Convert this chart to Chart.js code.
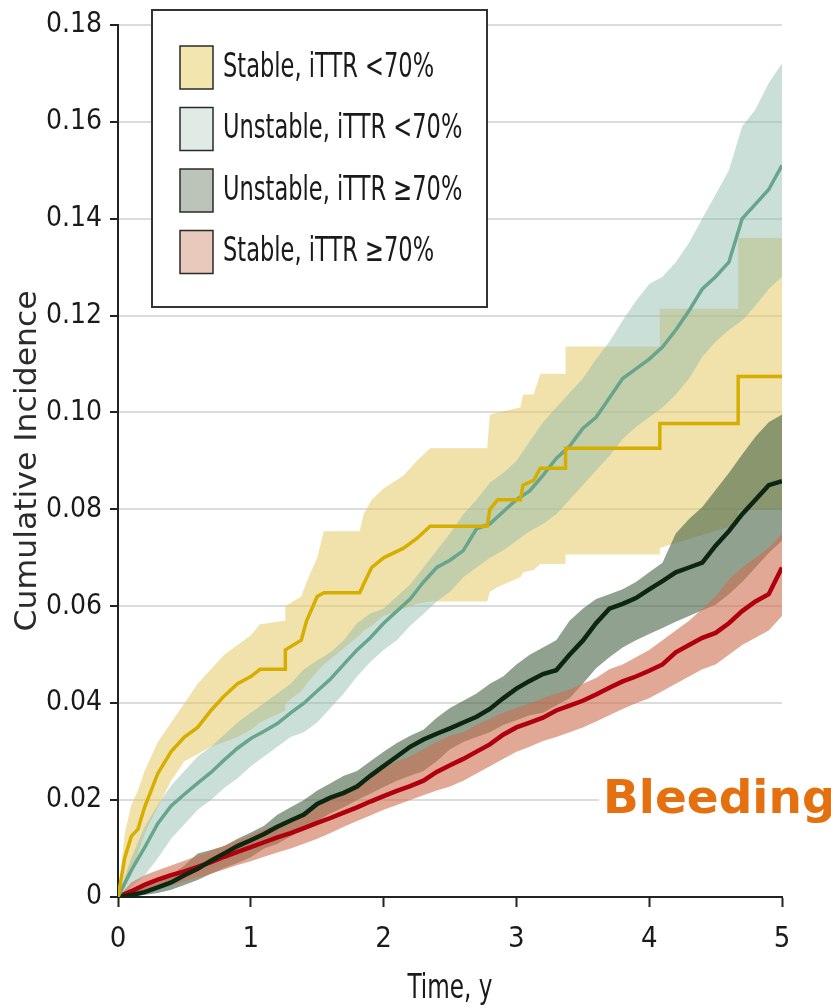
<!DOCTYPE html>
<html>
<head>
<meta charset="utf-8">
<script src="https://cdn.jsdelivr.net/npm/chart.js@4/dist/chart.umd.min.js"></script>
<style>
  html, body { margin: 0; padding: 0; background: #fff; }
  #wrap { width: 831px; height: 1008px; }
</style>
</head>
<body>
<div id="wrap"><canvas id="chart" width="831" height="1008"></canvas></div>
<script>
// follow-up time (years) for the three smoother curves
const years = [
  0, 0.1, 0.2, 0.3, 0.4, 0.5, 0.6, 0.7, 0.8, 0.9,
  1.0, 1.1, 1.2, 1.3, 1.4, 1.5, 1.6, 1.7, 1.8, 1.9,
  2.0, 2.1, 2.2, 2.3, 2.4, 2.5, 2.6, 2.7, 2.8, 2.9,
  3.0, 3.1, 3.2, 3.3, 3.4, 3.5, 3.6, 3.7, 3.8, 3.9,
  4.0, 4.1, 4.2, 4.3, 4.4, 4.5, 4.6, 4.7, 4.8, 4.9,
  5.0
];

// the stable <70% curve has few events, so its steps get their own times (repeated time = jump)
const stableLowYears = [
  0, 0.05, 0.1, 0.15, 0.2, 0.25, 0.3, 0.4, 0.5, 0.6,
  0.7, 0.8, 0.9, 1.0, 1.07, 1.26, 1.26, 1.38, 1.42, 1.5,
  1.55, 1.82, 1.85, 1.91, 2.0, 2.15, 2.25, 2.35, 2.78, 2.8,
  2.86, 3.03, 3.05, 3.13, 3.18, 3.37, 3.37, 4.08, 4.08, 4.67,
  4.67, 5.0
];

const seriesNames = ['Stable, iTTR <70%', 'Unstable, iTTR <70%', 'Unstable, iTTR \u226570%', 'Stable, iTTR \u226570%'];

// Stable, iTTR <70%
const stableLowEst = [
  0, 0.008, 0.0125, 0.014, 0.0185, 0.022, 0.0255, 0.030, 0.033, 0.035,
  0.0385, 0.0415, 0.044, 0.0455, 0.047, 0.047, 0.051, 0.053, 0.057, 0.062,
  0.0628, 0.0628, 0.0646, 0.068, 0.070, 0.072, 0.074, 0.0765, 0.0765, 0.080,
  0.082, 0.082, 0.085, 0.086, 0.0885, 0.0885, 0.0926, 0.0926, 0.0977, 0.0977,
  0.1074, 0.1074
];
const stableLowHi = [
  0, 0.013, 0.019, 0.022, 0.026, 0.029, 0.032, 0.036, 0.040, 0.044,
  0.047, 0.050, 0.052, 0.054, 0.0563, 0.057, 0.060, 0.062, 0.065, 0.070,
  0.0755, 0.0755, 0.079, 0.082, 0.0843, 0.087, 0.090, 0.0926, 0.0926, 0.0995,
  0.100, 0.101, 0.1037, 0.1037, 0.108, 0.108, 0.1136, 0.1136, 0.1214, 0.1214,
  0.136, 0.136
];
const stableLowLo = [
  0, 0.002, 0.005, 0.009, 0.013, 0.016, 0.0185, 0.024, 0.028, 0.0295,
  0.031, 0.032, 0.033, 0.0345, 0.036, 0.0385, 0.040, 0.0425, 0.044, 0.0465,
  0.048, 0.054, 0.055, 0.056, 0.058, 0.0595, 0.0605, 0.061, 0.061, 0.063,
  0.064, 0.066, 0.067, 0.0675, 0.0687, 0.0687, 0.0707, 0.0707, 0.072, 0.077,
  0.080, 0.080
];

// Unstable, iTTR <70%
const unstableLowEst = [
  0, 0.0055, 0.0102, 0.0152, 0.0188, 0.0212, 0.0235, 0.0257, 0.0283, 0.0307,
  0.0327, 0.0342, 0.0358, 0.038, 0.040, 0.0425, 0.045, 0.048, 0.051, 0.0535,
  0.0565, 0.059, 0.0615, 0.065, 0.068, 0.0695, 0.0715, 0.076, 0.077, 0.0795,
  0.082, 0.0838, 0.087, 0.0905, 0.093, 0.0967, 0.099, 0.103, 0.107, 0.109,
  0.111, 0.1135, 0.117, 0.121, 0.1255, 0.128, 0.131, 0.140, 0.143, 0.146,
  0.151
];
const unstableLowHi = [
  0, 0.008, 0.0145, 0.019, 0.023, 0.026, 0.029, 0.031, 0.0335, 0.036,
  0.038, 0.040, 0.042, 0.044, 0.047, 0.0488, 0.0505, 0.053, 0.0565, 0.0585,
  0.0595, 0.062, 0.0645, 0.068, 0.0715, 0.075, 0.079, 0.082, 0.0855, 0.0875,
  0.090, 0.094, 0.098, 0.101, 0.104, 0.107, 0.111, 0.1146, 0.119, 0.123,
  0.1265, 0.128, 0.131, 0.135, 0.140, 0.145, 0.150, 0.159, 0.1625, 0.168,
  0.172
];
const unstableLowLo = [
  0, 0.002, 0.0045, 0.008, 0.012, 0.015, 0.018, 0.020, 0.0225, 0.0245,
  0.027, 0.029, 0.031, 0.033, 0.034, 0.036, 0.039, 0.042, 0.0455, 0.0485,
  0.051, 0.053, 0.056, 0.0584, 0.061, 0.063, 0.066, 0.068, 0.070, 0.0715,
  0.0735, 0.0755, 0.077, 0.079, 0.082, 0.085, 0.088, 0.091, 0.0945, 0.097,
  0.099, 0.101, 0.1037, 0.107, 0.1115, 0.1146, 0.117, 0.119, 0.122, 0.1255,
  0.128
];

// Unstable, iTTR >=70%
const unstableHighEst = [
  0, 0.0004, 0.001, 0.002, 0.003, 0.0045, 0.0058, 0.0075, 0.009, 0.0105,
  0.0117, 0.013, 0.0145, 0.0158, 0.017, 0.0192, 0.0205, 0.0215, 0.0228, 0.025,
  0.027, 0.029, 0.031, 0.0325, 0.0337, 0.0348, 0.036, 0.0372, 0.0388, 0.041,
  0.043, 0.0446, 0.046, 0.0468, 0.050, 0.0529, 0.0565, 0.0595, 0.0605, 0.0617,
  0.0635, 0.0652, 0.067, 0.068, 0.069, 0.0725, 0.0755, 0.079, 0.082, 0.085,
  0.0858
];
const unstableHighHi = [
  0, 0.001, 0.002, 0.003, 0.0045, 0.0065, 0.009, 0.0097, 0.0105, 0.012,
  0.0133, 0.0147, 0.017, 0.0185, 0.020, 0.022, 0.0235, 0.025, 0.026, 0.028,
  0.030, 0.0318, 0.0333, 0.0345, 0.037, 0.039, 0.0405, 0.042, 0.044, 0.0455,
  0.048, 0.050, 0.0515, 0.053, 0.057, 0.0595, 0.0615, 0.0625, 0.0635, 0.065,
  0.067, 0.069, 0.075, 0.078, 0.0805, 0.084, 0.0875, 0.0913, 0.095, 0.098,
  0.0996
];
const unstableHighLo = [
  0, 0.0001, 0.0004, 0.0008, 0.0015, 0.0025, 0.0035, 0.0048, 0.006, 0.007,
  0.0082, 0.010, 0.011, 0.0125, 0.014, 0.0157, 0.0173, 0.0185, 0.020, 0.0213,
  0.0227, 0.024, 0.025, 0.026, 0.028, 0.0305, 0.032, 0.033, 0.034, 0.0355,
  0.0365, 0.0375, 0.038, 0.0395, 0.041, 0.044, 0.0472, 0.0495, 0.0515, 0.053,
  0.0543, 0.0555, 0.0568, 0.058, 0.0592, 0.0603, 0.0625, 0.065, 0.068, 0.071,
  0.0735
];

// Stable, iTTR >=70%
const stableHighEst = [
  0, 0.0012, 0.0025, 0.0036, 0.0045, 0.0053, 0.0062, 0.0072, 0.0083, 0.0093,
  0.0103, 0.0113, 0.0123, 0.0132, 0.0142, 0.0153, 0.0163, 0.0174, 0.0185, 0.0197,
  0.0208, 0.0219, 0.0229, 0.024, 0.0258, 0.0272, 0.0285, 0.030, 0.0315, 0.0335,
  0.035, 0.036, 0.037, 0.0385, 0.0395, 0.0405, 0.0418, 0.0432, 0.0445, 0.0455,
  0.0467, 0.048, 0.0505, 0.052, 0.0535, 0.0545, 0.0565, 0.059, 0.061, 0.0625,
  0.068
];
const stableHighHi = [
  0, 0.003, 0.0045, 0.0055, 0.0065, 0.0075, 0.0085, 0.0095, 0.0106, 0.0117,
  0.0128, 0.014, 0.015, 0.016, 0.0172, 0.0185, 0.0205, 0.022, 0.0235, 0.025,
  0.0265, 0.028, 0.029, 0.0305, 0.032, 0.0333, 0.034, 0.0355, 0.0368, 0.038,
  0.039, 0.040, 0.041, 0.042, 0.0428, 0.044, 0.0452, 0.047, 0.048, 0.0495,
  0.051, 0.053, 0.055, 0.057, 0.0595, 0.062, 0.0655, 0.068, 0.070, 0.072,
  0.075
];
const stableHighLo = [
  0, 0.0003, 0.001, 0.0018, 0.0025, 0.0032, 0.004, 0.0048, 0.0057, 0.0066,
  0.0074, 0.0083, 0.0092, 0.010, 0.011, 0.012, 0.0132, 0.0145, 0.0157, 0.0168,
  0.018, 0.019, 0.020, 0.021, 0.022, 0.0228, 0.024, 0.0255, 0.027, 0.0285,
  0.030, 0.031, 0.0322, 0.033, 0.034, 0.035, 0.0362, 0.0375, 0.0388, 0.040,
  0.041, 0.0425, 0.044, 0.0455, 0.047, 0.048, 0.050, 0.052, 0.0535, 0.055,
  0.058
];

const yTicks = [0, 0.02, 0.04, 0.06, 0.08, 0.10, 0.12, 0.14, 0.16, 0.18];
const xTicks = [0, 1, 2, 3, 4, 5];

const xTitle = 'Time, y';
const yTitle = 'Cumulative Incidence';
const outcome = 'Bleeding';

const condensed = "'DejaVu Sans Condensed', 'Liberation Sans Narrow', sans-serif";

// one entry per group: curve, band and swatch colours; drawOrder keeps the yellow band lowest
const groups = [
  { name: seriesNames[0], t: stableLowYears, est: stableLowEst, lo: stableLowLo, hi: stableLowHi,
    line: '#d6ae00', lineWidth: 3.5, band: 'rgba(230, 200, 100, 0.55)', swatch: '#f2e5ae', drawOrder: 4 },
  { name: seriesNames[1], t: years, est: unstableLowEst, lo: unstableLowLo, hi: unstableLowHi,
    line: '#68a58c', lineWidth: 3.5, band: 'rgba(140, 185, 170, 0.45)', swatch: '#e1ebe6', drawOrder: 3 },
  { name: seriesNames[2], t: years, est: unstableHighEst, lo: unstableHighLo, hi: unstableHighHi,
    line: '#0d2611', lineWidth: 4.5, band: 'rgba(70, 100, 68, 0.6)', swatch: '#bcc3b8', drawOrder: 2 },
  { name: seriesNames[3], t: years, est: stableHighEst, lo: stableHighLo, hi: stableHighHi,
    line: '#b0000d', lineWidth: 4.5, band: 'rgba(205, 110, 80, 0.6)', swatch: '#e9c9bb', drawOrder: 1 }
];

function toPoints(times, values) {
  return times.map(function (t, i) { return { x: t, y: values[i] }; });
}

const datasets = [];
// estimate curves first, so they sit above every band
groups.forEach(function (g) {
  datasets.push({
    label: g.name, data: toPoints(g.t, g.est), tension: 0,
    borderColor: g.line, borderWidth: g.lineWidth, borderJoinStyle: 'miter',
    pointRadius: 0, fill: false, order: 0
  });
});
groups.forEach(function (g) {
  const lowerIndex = datasets.length;
  datasets.push({
    label: g.name + ' lower', data: toPoints(g.t, g.lo),
    borderWidth: 0, borderColor: 'rgba(0,0,0,0)', pointRadius: 0, fill: false, order: g.drawOrder
  });
  datasets.push({
    label: g.name + ' upper', data: toPoints(g.t, g.hi),
    borderWidth: 0, borderColor: 'rgba(0,0,0,0)', pointRadius: 0,
    fill: { target: lowerIndex }, backgroundColor: g.band, order: g.drawOrder
  });
});

// text squeezed sideways, to get the tall narrow lettering of the axis captions
function squeezedText(ctx, text, x, y, sx, align) {
  ctx.save();
  ctx.translate(x, y);
  ctx.scale(sx, 1);
  ctx.textAlign = align;
  ctx.fillText(text, 0, 0);
  ctx.restore();
}

// boxed legend in the upper left of the plot
const legendBox = {
  id: 'legendBox',
  afterDatasetsDraw(chart) {
    const ctx = chart.ctx;
    ctx.save();
    ctx.fillStyle = '#fff';
    ctx.fillRect(152, 10, 335, 297);
    ctx.strokeStyle = '#333';
    ctx.lineWidth = 2;
    ctx.strokeRect(152, 10, 335, 297);
    ctx.font = '33px ' + condensed;
    ctx.textBaseline = 'middle';
    groups.forEach(function (g, i) {
      const cy = 67 + i * 61.5;
      ctx.fillStyle = g.swatch;
      ctx.fillRect(180, cy - 21, 33, 43);
      ctx.strokeStyle = '#2a2a2a';
      ctx.lineWidth = 1.5;
      ctx.strokeRect(180, cy - 21, 33, 43);
      ctx.fillStyle = '#1a1a1a';
      squeezedText(ctx, g.name, 223, cy + 1, 0.76, 'left');
    });
    ctx.restore();
  }
};

// axis captions and the outcome label
const captions = {
  id: 'captions',
  afterDraw(chart) {
    const ctx = chart.ctx;
    const area = chart.chartArea;
    ctx.save();
    ctx.fillStyle = '#1a1a1a';
    ctx.textBaseline = 'alphabetic';
    ctx.font = '33px ' + condensed;
    squeezedText(ctx, xTitle, (area.left + area.right) / 2, 998, 0.78, 'center');

    ctx.font = "30px 'DejaVu Sans', sans-serif";
    ctx.fillStyle = '#2b2b2b';
    ctx.translate(36, (area.top + area.bottom) / 2);
    ctx.rotate(-Math.PI / 2);
    squeezedText(ctx, yTitle, 0, 0, 1.05, 'center');
    ctx.restore();

    ctx.save();
    ctx.fillStyle = '#fff';
    ctx.fillRect(599, 768, 232, 58);
    ctx.font = "bold 47px 'DejaVu Sans', Verdana, sans-serif";
    ctx.fillStyle = '#e4700f';
    ctx.textBaseline = 'alphabetic';
    ctx.fillText(outcome, 603, 813);
    ctx.restore();
  }
};

new Chart(document.getElementById('chart'), {
  type: 'line',
  data: { datasets: datasets },
  options: {
    responsive: false,
    animation: false,
    layout: { padding: { top: 22, right: 49, left: 0, bottom: 0 } },
    plugins: {
      legend: { display: false },
      tooltip: { enabled: false }
    },
    scales: {
      x: {
        type: 'linear',
        min: 0, max: 5,
        afterFit: function (scale) { scale.height = 111; },
        afterBuildTicks: function (scale) { scale.ticks = xTicks.map(function (v) { return { value: v }; }); },
        grid: { drawOnChartArea: false, tickLength: 10, tickColor: '#222', tickWidth: 2 },
        border: { display: true, color: '#222', width: 2 },
        ticks: { color: '#1a1a1a', padding: 15, font: { family: condensed, size: 29 } }
      },
      y: {
        type: 'linear',
        min: 0, max: 0.18,
        afterFit: function (scale) { scale.width = 118; },
        afterBuildTicks: function (scale) { scale.ticks = yTicks.map(function (v) { return { value: v }; }); },
        grid: { color: '#dcdcdc', lineWidth: 2, tickLength: 8, tickColor: '#222', tickWidth: 2 },
        border: { display: true, color: '#222', width: 2 },
        ticks: {
          color: '#1a1a1a', padding: 8, font: { family: condensed, size: 28 },
          callback: function (v) { return v === 0 ? '0' : v.toFixed(2); }
        }
      }
    }
  },
  plugins: [legendBox, captions]
});
</script>
</body>
</html>
